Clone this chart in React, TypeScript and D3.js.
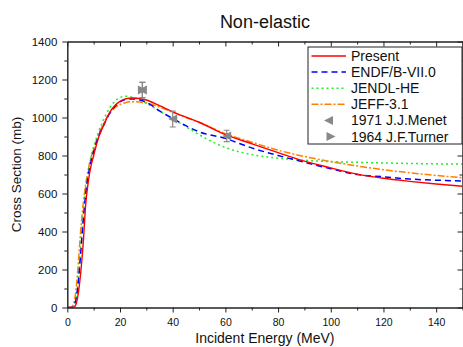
import React, { useRef, useEffect } from 'react';
import * as d3 from 'd3';

// energy grid (MeV) shared by all evaluated curves
const energy = [0, 1, 2, 3, 4, 5, 6, 7, 8, 9, 10, 12, 14, 16, 18, 20, 22, 25, 30, 35, 40, 45, 50, 60, 70, 80, 90, 100, 110, 120, 130, 140, 150];

// cross sections (mb)
const present = [0, 0, 0, 8, 60, 170, 330, 545, 665, 745, 800, 900, 965, 1025, 1062, 1085, 1098, 1103, 1092, 1062, 1030, 1002, 975, 910, 862, 815, 770, 735, 702, 680, 664, 650, 638];
const endf = [0, 0, 2, 25, 110, 270, 450, 600, 700, 770, 820, 905, 965, 1020, 1058, 1082, 1095, 1098, 1080, 1035, 995, 957, 925, 890, 840, 800, 765, 730, 700, 688, 676, 670, 666];
const jendl = [0, 0, 3, 30, 130, 310, 490, 630, 725, 795, 845, 930, 995, 1048, 1085, 1105, 1112, 1105, 1075, 1033, 993, 952, 910, 842, 805, 786, 775, 768, 764, 761, 758, 756, 755];
const jeff = [0, 0, 8, 60, 200, 390, 540, 650, 730, 790, 835, 915, 975, 1020, 1050, 1068, 1078, 1083, 1076, 1055, 1028, 1000, 975, 915, 870, 828, 795, 768, 745, 725, 709, 695, 683];

// experimental points
const menetE = [28.5, 40, 60.5];
const menetXS = [1145, 992, 903];
const menetErr = [40, 42, 30];
const turnerE = [28.5];
const turnerXS = [1145];
const turnerErr = [40];

const xMajor = [0, 20, 40, 60, 80, 100, 120, 140];
const xMinor = [10, 30, 50, 70, 90, 110, 130, 150];
const yMajor = [0, 200, 400, 600, 800, 1000, 1200, 1400];
const yMinor = [100, 300, 500, 700, 900, 1100, 1300];

const W = 463;
const H = 347;
const margin = { top: 41.5, right: 0.5, bottom: 39.5, left: 67.3 };

const series = [
  { name: 'Present', values: present, color: '#ff0000', dash: null },
  { name: 'ENDF/B-VII.0', values: endf, color: '#0000ff', dash: '6,4' },
  { name: 'JENDL-HE', values: jendl, color: '#22ee22', dash: '2,3' },
  { name: 'JEFF-3.1', values: jeff, color: '#ff8000', dash: '7,2,2,2' },
];

const font = 'Arial, "Liberation Sans", sans-serif';

export default function App() {
  const axRef = useRef<SVGGElement>(null);

  const x = d3.scaleLinear().domain([0, 150]).range([margin.left, W - margin.right]);
  const y = d3.scaleLinear().domain([0, 1400]).range([H - margin.bottom, margin.top]);

  const line = d3.line<number>()
    .x((_, i) => x(energy[i]))
    .y(d => y(d))
    .curve(d3.curveMonotoneX);

  useEffect(() => {
    const g = d3.select(axRef.current);
    g.selectAll('*').remove();
    const x0 = margin.left;
    const x1 = W - margin.right;
    const y0 = H - margin.bottom;
    const y1 = margin.top;
    const fmt = d3.format('d');

    const style = (sel: any, size: number) => {
      sel.selectAll('.domain').attr('stroke', '#222').attr('stroke-width', 1);
      sel.selectAll('.tick line').attr('stroke', '#222');
      sel.selectAll('text')
        .attr('font-family', font)
        .attr('font-size', size)
        .attr('fill', '#111');
      if (!size) sel.selectAll('text').remove();
    };

    // bottom
    g.append('g').attr('transform', `translate(0,${y0})`)
      .call(d3.axisBottom(x).tickValues(xMajor).tickFormat(fmt).tickSize(5).tickSizeOuter(0).tickPadding(6))
      .call((s: any) => style(s, 10.5));
    g.append('g').attr('transform', `translate(0,${y0})`)
      .call(d3.axisBottom(x).tickValues(xMinor).tickSize(3).tickSizeOuter(0))
      .call((s: any) => style(s, 0));
    // top (inward ticks)
    g.append('g').attr('transform', `translate(0,${y1})`)
      .call(d3.axisTop(x).tickValues(xMajor).tickSize(-5).tickSizeOuter(0))
      .call((s: any) => style(s, 0));
    g.append('g').attr('transform', `translate(0,${y1})`)
      .call(d3.axisTop(x).tickValues(xMinor).tickSize(-3).tickSizeOuter(0))
      .call((s: any) => style(s, 0));
    // left
    g.append('g').attr('transform', `translate(${x0},0)`)
      .call(d3.axisLeft(y).tickValues(yMajor).tickFormat(fmt).tickSize(5).tickSizeOuter(0).tickPadding(5))
      .call((s: any) => style(s, 11.5));
    g.append('g').attr('transform', `translate(${x0},0)`)
      .call(d3.axisLeft(y).tickValues(yMinor).tickSize(3).tickSizeOuter(0))
      .call((s: any) => style(s, 0));
    // right (inward ticks)
    g.append('g').attr('transform', `translate(${x1},0)`)
      .call(d3.axisRight(y).tickValues(yMajor).tickSize(-5).tickSizeOuter(0))
      .call((s: any) => style(s, 0));
    g.append('g').attr('transform', `translate(${x1},0)`)
      .call(d3.axisRight(y).tickValues(yMinor).tickSize(-3).tickSizeOuter(0))
      .call((s: any) => style(s, 0));
  }, []);

  const tri = (cx: number, cy: number, dir: number) => {
    const s = 4.5;
    return `M${cx + dir * s},${cy - s}L${cx + dir * s},${cy + s}L${cx - dir * s},${cy}Z`;
  };

  const errBar = (e: number, v: number, err: number, key: string) => (
    <g key={key} stroke="#888" strokeWidth={1.2}>
      <line x1={x(e)} x2={x(e)} y1={y(v + err)} y2={y(v - err)} />
      <line x1={x(e) - 3} x2={x(e) + 3} y1={y(v + err)} y2={y(v + err)} />
      <line x1={x(e) - 3} x2={x(e) + 3} y1={y(v - err)} y2={y(v - err)} />
    </g>
  );

  const lx0 = 311.5;
  const lx1 = 346;
  const ly = (i: number) => 56 + i * 16.1;

  return (
    <svg width={W} height={H} style={{ position: 'absolute', left: 0, top: 0 }}>
      <rect width={W} height={H} fill="#fff" />
      <defs>
        <clipPath id="plot">
          <rect x={margin.left} y={margin.top} width={W - margin.left - margin.right} height={H - margin.top - margin.bottom} />
        </clipPath>
      </defs>
      <text x={(margin.left + W - margin.right) / 2} y={27.5} textAnchor="middle" fontFamily={font} fontSize={18} fill="#111">Non-elastic</text>

      <g clipPath="url(#plot)">
        {series.slice().reverse().map(s => (
          <path key={s.name} d={line(s.values) || ''} fill="none" stroke={s.color}
            strokeWidth={s.dash ? 1.5 : 1.4} strokeDasharray={s.dash || undefined} />
        ))}
        {menetE.map((e, i) => errBar(e, menetXS[i], menetErr[i], 'me' + i))}
        {turnerE.map((e, i) => errBar(e, turnerXS[i], turnerErr[i], 'te' + i))}
        {menetE.map((e, i) => <path key={'m' + i} d={tri(x(e), y(menetXS[i]), 1)} fill="#888" />)}
        {turnerE.map((e, i) => <path key={'t' + i} d={tri(x(e), y(turnerXS[i]), -1)} fill="#888" />)}
      </g>

      <g ref={axRef} />

      <text transform={`translate(21,${(margin.top + H - margin.bottom) / 2}) rotate(-90)`} textAnchor="middle"
        fontFamily={font} fontSize={13.5} fill="#111">Cross Section (mb)</text>
      <text x={(margin.left + W - margin.right) / 2} y={343} textAnchor="middle" fontFamily={font} fontSize={14} fill="#111">Incident Energy (MeV)</text>

      <rect x={308} y={47} width={154} height={97} fill="#fff" stroke="#222" strokeWidth={1} />
      {series.map((s, i) => (
        <g key={s.name}>
          <line x1={lx0} x2={lx1} y1={ly(i)} y2={ly(i)} stroke={s.color} strokeWidth={1.5} strokeDasharray={s.dash || undefined} />
          <text x={351} y={ly(i) + 5} fontFamily={font} fontSize={14} fill="#111">{s.name}</text>
        </g>
      ))}
      <path d={tri(328.5, ly(4), 1)} fill="#888" />
      <text x={351} y={ly(4) + 5} fontFamily={font} fontSize={14} fill="#111">1971 J.J.Menet</text>
      <path d={tri(331, ly(5), -1)} fill="#888" />
      <text x={351} y={ly(5) + 5} fontFamily={font} fontSize={14} fill="#111">1964 J.F.Turner</text>
    </svg>
  );
}
